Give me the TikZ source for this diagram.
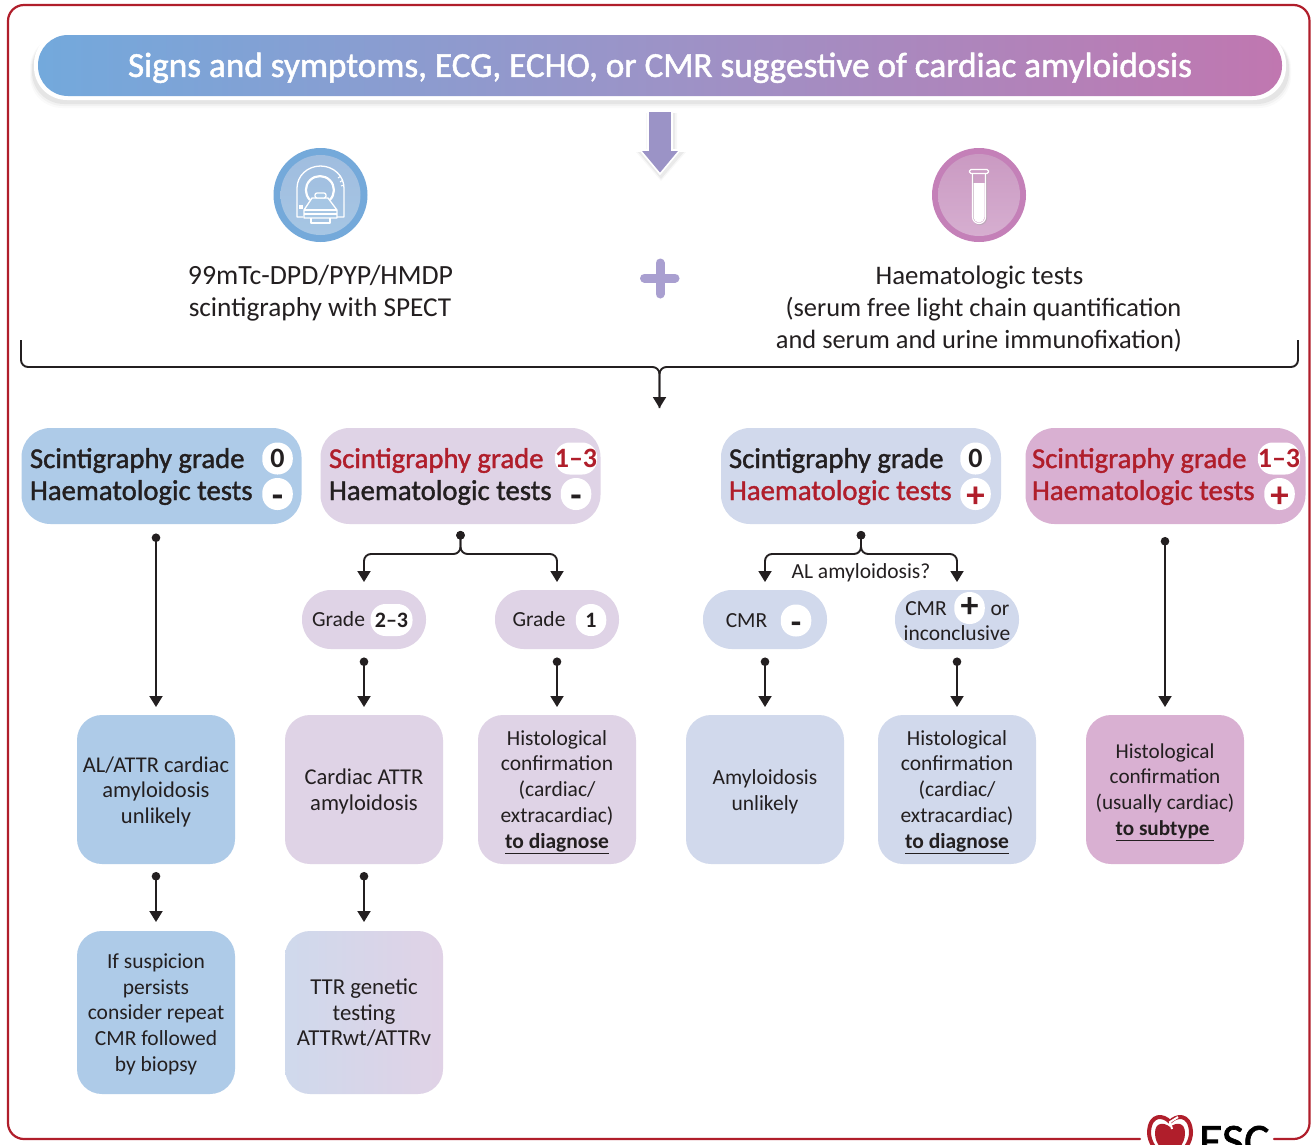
\documentclass[tikz,border=0pt]{standalone}
\usepackage{fontspec}
\setmainfont{Carlito}
\newfontfamily\medf[FakeBold=1.4]{Carlito}
\usetikzlibrary{arrows.meta,calc}
\definecolor{ink}{HTML}{231F20}
\definecolor{esc}{HTML}{B01E2B}
\definecolor{cA}{HTML}{AECBE8}
\definecolor{cB}{HTML}{DFD3E6}
\definecolor{cC}{HTML}{D1D9EC}
\definecolor{cD}{HTML}{D9B0D2}
\definecolor{arrowc}{HTML}{9B93C6}
\definecolor{plusc}{HTML}{A99FD0}
\definecolor{gA}{HTML}{73A9DC}
\definecolor{gB}{HTML}{9C93C7}
\definecolor{gC}{HTML}{C077B0}
\definecolor{tA}{HTML}{CFD9EC}
\definecolor{tB}{HTML}{E0D2E6}
\definecolor{icA}{HTML}{74A9DA}
\definecolor{icAt}{HTML}{A0BDDF}
\definecolor{icAb}{HTML}{A6C6E4}
\definecolor{icB}{HTML}{C480B8}
\definecolor{icBt}{HTML}{CA9AC2}
\definecolor{icBb}{HTML}{D6AED0}
\newcommand{\ts}{\rule{0pt}{20pt}}
\newcommand{\tsb}{\rule{0pt}{16pt}}
\pgfdeclarehorizontalshading{titlegrad}{100bp}{color(0bp)=(gA);color(25bp)=(gA);color(50bp)=(gB);color(75bp)=(gC);color(100bp)=(gC)}
\pgfdeclarehorizontalshading{ttrgrad}{100bp}{color(0bp)=(tA);color(25bp)=(tA);color(75bp)=(tB);color(100bp)=(tB)}
\tikzset{
 x=1pt,y=-1pt,
 every node/.style={text=ink,inner sep=0pt,outer sep=0pt},
 head/.style={rounded corners=29pt,minimum width=280pt,minimum height=96pt},
 pillbox/.style={rounded corners=29pt,minimum width=124pt,minimum height=59pt,align=center,font=\fontsize{21.5}{25.7}\selectfont},
 outcome/.style={rounded corners=25pt,minimum width=158pt,align=center,font=\fontsize{21.5}{25.7}\selectfont},
 tall/.style={outcome,minimum height=149pt},
 taller/.style={outcome,minimum height=163pt},
 headtxt/.style={anchor=base west,font=\medf\fontsize{28.7}{32}\selectfont},
 redtxt/.style={text=esc},
 badge/.style={fill=white,rounded corners=15pt,minimum width=30.5pt,minimum height=32pt,font=\bfseries\fontsize{28}{32}\selectfont},
 badgewide/.style={badge,minimum width=42pt},
 bigsign/.style={badge,font=\bfseries\fontsize{37}{32}\selectfont},
 mini/.style={fill=white,rounded corners=15pt,minimum width=30.5pt,minimum height=32pt,font=\fontsize{22}{26}\selectfont\bfseries},
 smalltxt/.style={anchor=base,font=\fontsize{21.5}{25.7}\selectfont},
 conn/.style={draw=ink,line width=1.9pt,{Circle[length=8.5pt,width=8.5pt]}-{Triangle[length=11pt,width=13pt]}},
 fork/.style={conn,rounded corners=7pt},
 body/.style={font=\fontsize{26.5}{32}\selectfont,anchor=base},
 art/.style={draw=white,line width=1.3pt,line join=round},
}
\begin{document}
\begin{tikzpicture}
\useasboundingbox (0,0) rectangle (1311,1144);
\clip (0,0) rectangle (1311,1144);
\fill[white] (0,0) rectangle (1311,1144);
% frame
\draw[draw=esc,line width=2.2pt,rounded corners=16pt,line cap=round]
  (1140,1139) -- (8,1139) -- (8,5) -- (1309.5,5) -- (1309.5,1139) -- (1274,1139);
% title
\fill[black,opacity=.02,rounded corners=32pt] (30,36) rectangle (1291,108);
\fill[black,opacity=.03,rounded corners=32pt] (31,36) rectangle (1290,106);
\fill[black,opacity=.05,rounded corners=32pt] (32,36) rectangle (1289,104);
\fill[white,rounded corners=33pt] (34,31) rectangle (1286,100);
\node[shading=titlegrad,rounded corners=30pt,minimum width=1244pt,minimum height=61pt,font=\medf\fontsize{35.2}{38}\selectfont,text=white] (title) at (660,65.5)
  {\rule{0pt}{29pt}Signs and symptoms, ECG, ECHO, or CMR suggestive of cardiac amyloidosis};
% big arrow
\fill[black,opacity=.03] (646,113) -- (677,113) -- (677,152) -- (686,152) -- (661,181) -- (636,152) -- (646,152) -- cycle;
\fill[black,opacity=.05] (647,113) -- (675,113) -- (675,152) -- (684,152) -- (661,179) -- (638,152) -- (647,152) -- cycle;
\path[fill=arrowc,draw=white,line width=1.6pt] (648,111) -- (672,111) -- (672,150) -- (680,150) -- (660,174) -- (640,150) -- (648,150) -- cycle;
% plus
\draw[plusc,line width=9pt,line cap=round] (644.5,278) -- (675,278) (660,263) -- (660,294);
% scanner icon
\fill[icA] (320.5,195) circle (47);
\shade[top color=icAt,bottom color=icAb] (320.5,195) circle (40);
\begin{scope}[art]
 \draw (303,217) -- (297,217) -- (297,188) arc[start angle=180,end angle=360,x radius=23.5,y radius=22] -- (344,217) -- (337,217);
 \draw[line width=2.2pt] (310,200) arc[start angle=135,end angle=405,radius=14];
 \draw[fill=icAb] (312,198) -- (328,198) -- (337,210) -- (337,218) -- (304,218) -- (304,210) -- cycle;
 \draw (304,210) -- (337,210) (304,214) -- (337,214);
 \draw[fill=icAb,rounded corners=2pt] (315,193) rectangle (326,198);
 \draw (311,218) -- (311,223) -- (330,223) -- (330,218);
 \fill[white] (299,205) rectangle (303,209);
 \draw[line width=1pt] (338,178) -- (341,176) (340,182) -- (343,180) (341,186) -- (344,185);
\end{scope}
% tube icon
\fill[icB] (979,195) circle (47);
\shade[top color=icBt,bottom color=icBb] (979,195) circle (41);
\draw[black!35,opacity=.5,line width=1.2pt] (973.5,173) -- (973.5,218) arc[start angle=180,end angle=0,radius=6.5] -- (986.5,173);
\fill[white] (973.5,183) -- (984.5,183) -- (984.5,217) arc[start angle=0,end angle=180,radius=5.5] -- cycle;
\draw[white,line width=1.2pt] (972.5,173) -- (972.5,217) arc[start angle=180,end angle=0,radius=6.5] -- (985.5,173);
\draw[white,line width=1.2pt,rounded corners=1.5pt] (969.5,169.5) rectangle (988.5,173.5);
% texts under icons
\node[body,font=\fontsize{27.8}{32}\selectfont] (scint1) at (320.5,284) {99mTc-DPD/PYP/HMDP};
\node[body,font=\fontsize{27.3}{32}\selectfont] (scint2) at (320,316) {scintigraphy with SPECT};
\node[body,font=\fontsize{26.8}{32}\selectfont] (haem1) at (979.5,284) {Haematologic tests};
\node[body,font=\fontsize{26.4}{32}\selectfont] (haem2) at (983.5,316) {(serum free light chain quantification};
\node[body,font=\fontsize{26.4}{32}\selectfont] (haem3) at (979,348) {and serum and urine immunofixation)};
% bracket
\coordinate (bl) at (21,340);
\coordinate (br) at (1298,340);
\coordinate (bm) at (659.5,367);
\coordinate (bt) at (659.5,408);
\draw[draw=ink,line width=1.9pt,rounded corners=7pt] (bl) |- (bm) -- (bt);
\draw[draw=ink,line width=1.9pt,rounded corners=7pt,-{Triangle[length=11pt,width=13pt]}] (br) |- (bm) -- (bt);
% head boxes
\node[head,fill=cA] (A) at (161.5,476) {};
\node[head,fill=cB] (B) at (460.5,476) {};
\node[head,fill=cC] (C) at (861,476) {};
\node[head,fill=cD] (D) at (1165.5,476) {};
\node[headtxt] (At) at (30,468) {Scintigraphy grade};
\node[headtxt] (Ah) at (30,500) {Haematologic tests};
\node[badge] (Ap) at (277.5,458.5) {0};
\node[bigsign] (Am) at (277.5,494) {\rule{0pt}{27pt}-};
\node[headtxt,redtxt] (Bt) at (329,468) {Scintigraphy grade};
\node[headtxt] (Bh) at (329,500) {Haematologic tests};
\node[badgewide,redtxt] (Bp) at (576,458.5) {1--3};
\node[bigsign] (Bm) at (576,494) {\rule{0pt}{27pt}-};
\node[headtxt] (Ct) at (729,468) {Scintigraphy grade};
\node[headtxt,redtxt] (Ch) at (729,500) {Haematologic tests};
\node[badge] (Cp) at (975.5,458.5) {0};
\node[bigsign,redtxt] (Cm) at (975.5,494) {\rule{0pt}{26pt}+};
\node[headtxt,redtxt] (Dt) at (1032,468) {Scintigraphy grade};
\node[headtxt,redtxt] (Dh) at (1032,500) {Haematologic tests};
\node[badgewide,redtxt] (Dp) at (1279,458.5) {1--3};
\node[bigsign,redtxt] (Dm) at (1279.5,494) {\rule{0pt}{26pt}+};
% second row
\node[pillbox,fill=cB] (G23) at (364,619.5) {};
\node[smalltxt] (G23t) at (338.5,626) {Grade};
\node[mini] (G23b) at (391.5,620) [minimum width=42pt] {2--3};
\node[pillbox,fill=cB] (G1) at (557,619.5) {};
\node[smalltxt] (G1t) at (539,626) {Grade};
\node[mini] (G1b) at (591,620) {1};
\node[pillbox,fill=cC] (Cneg) at (765,619.5) {};
\node[smalltxt] (Cnegt) at (746.5,627) {CMR};
\node[mini,font=\bfseries\fontsize{34}{32}\selectfont] (Cnegb) at (796,620.5) {\rule{0pt}{25pt}-};
\node[pillbox,fill=cC] (Cpos) at (957,619.5) {};
\node[smalltxt] (Cpost) at (926,615) {CMR};
\node[mini,font=\bfseries\fontsize{36}{32}\selectfont] (Cposb) at (969.5,608) {+};
\node[smalltxt] (Cposo) at (1000,615) {or};
\node[smalltxt] (Cposi) at (957,640) {inconclusive};
\node[smalltxt] (al) at (861,578) {AL amyloidosis?};
% outcomes
\node[tall,fill=cA,font=\fontsize{22.5}{25.7}\selectfont] (a2) at (156,789.5) {\ts AL/ATTR cardiac\\amyloidosis\\unlikely};
\node[taller,fill=cA] (a3) at (156,1012.5) {\rule{0pt}{18pt}If suspicion\\persists\\consider repeat\\CMR followed\\by biopsy};
\node[tall,fill=cB,font=\fontsize{22.6}{25.7}\selectfont] (b2) at (364,789.5) {\ts Cardiac ATTR\\amyloidosis};
\node[taller,shading=ttrgrad,font=\fontsize{22.8}{25.7}\selectfont] (b3) at (364,1012.5) {\tsb TTR genetic\\testing\\ATTRwt/ATTRv};
\node[tall,fill=cB] (g1o) at (557,789.5) {\ts Histological\\confirmation\\(cardiac/\\extracardiac)\\\underline{\textbf{to diagnose}}};
\node[tall,fill=cC] (c2) at (765,789.5) {\ts Amyloidosis\\unlikely};
\node[tall,fill=cC] (c3) at (957,789.5) {\ts Histological\\confirmation\\(cardiac/\\extracardiac)\\\underline{\textbf{to diagnose}}};
\node[tall,fill=cD,font=\fontsize{21.2}{25.7}\selectfont] (d2) at (1165,789.5) {\ts Histological\\confirmation\\(usually cardiac)\\\underline{\textbf{to subtype\ }}};
% connectors
\draw[conn,shorten <=9.5pt,shorten >=8pt] (a2.north |- A.south) -- (a2.north);
\draw[conn,shorten <=8pt,shorten >=9pt] (a2.south) -- (a3.north);
\draw[conn,shorten <=8pt,shorten >=9pt] (b2.south) -- (b3.north);
\draw[conn,shorten <=13pt,shorten >=8pt] (d2.north |- D.south) -- (d2.north);
\coordinate (bf) at ([yshift=-30pt]B.south);
\coordinate (cf) at ([yshift=-30pt]C.south);
\draw[fork,shorten <=7pt,shorten >=8pt] (B.south) -- (bf) -| (G23.north);
\draw[fork,shorten <=7pt,shorten >=8pt] (B.south) -- (bf) -| (G1.north);
\draw[fork,shorten <=7pt,shorten >=8pt] (C.south) -- (cf) -| (Cneg.north);
\draw[fork,shorten <=7pt,shorten >=8pt] (C.south) -- (cf) -| (Cpos.north);
\draw[conn,shorten <=8.5pt,shorten >=8pt] (G23.south) -- (b2.north);
\draw[conn,shorten <=8.5pt,shorten >=8pt] (G1.south) -- (g1o.north);
\draw[conn,shorten <=8.5pt,shorten >=8pt] (Cneg.south) -- (c2.north);
\draw[conn,shorten <=8.5pt,shorten >=8pt] (Cpos.south) -- (c3.north);
% logo
\draw[esc,line width=4pt] (1170,1122) .. controls (1164,1115) and (1150,1113) .. (1149,1132) .. controls (1149,1142) and (1155,1152) .. (1170,1160) .. controls (1185,1152) and (1191,1142) .. (1191,1132) .. controls (1190,1113) and (1176,1115) .. (1170,1122);
\fill[esc] (1170,1127) .. controls (1164,1122) and (1155,1122) .. (1155,1133) .. controls (1155,1145) and (1163,1150) .. (1170,1156) .. controls (1177,1150) and (1185,1145) .. (1185,1133) .. controls (1185,1122) and (1176,1122) .. (1170,1127);
\draw[white,line width=2pt] (1172,1129) -- (1170,1122) -- (1178,1117);
\node[anchor=base west,font=\medf\fontsize{48}{50}\selectfont,text=black] (esclogo) at (1199,1157) {ESC};
\end{tikzpicture}
\end{document}
